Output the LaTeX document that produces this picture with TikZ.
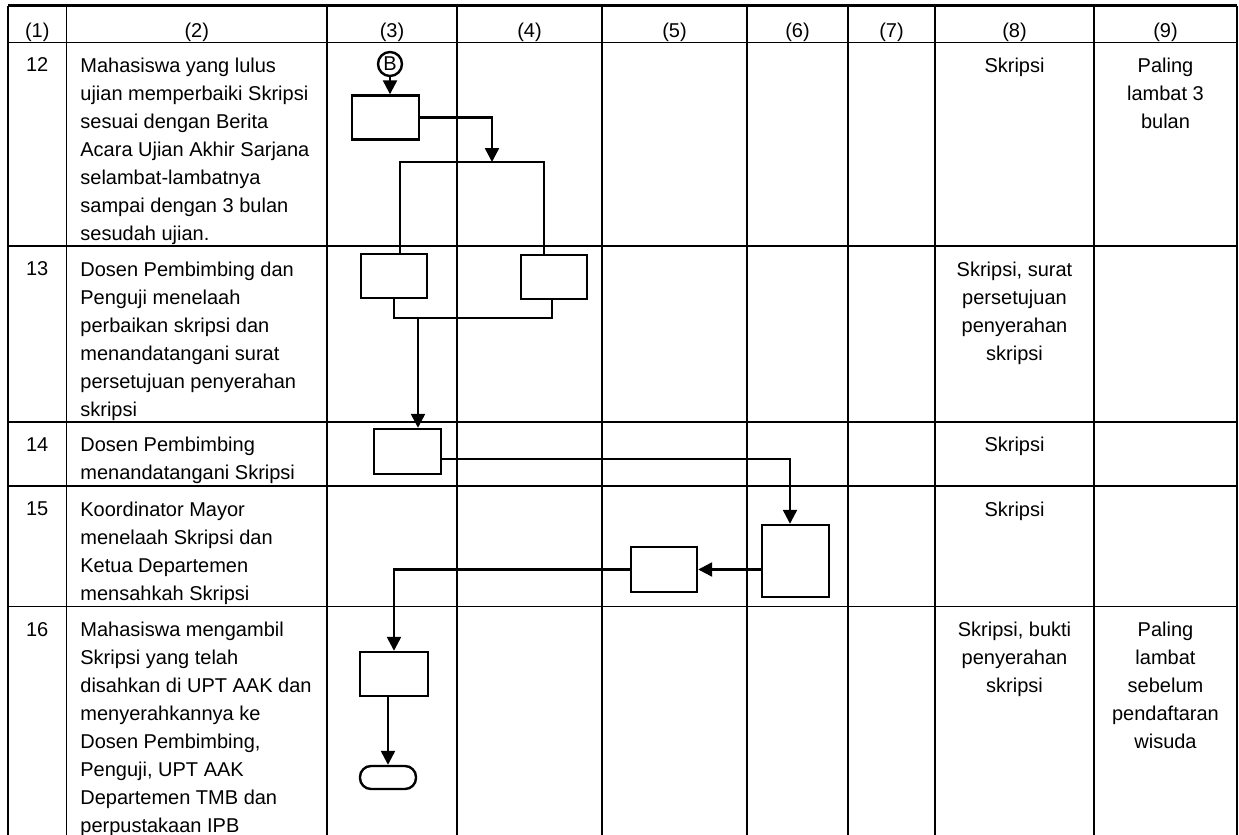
\documentclass[tikz,border=0pt]{standalone}
\usepackage{fontspec}
\setmainfont{Liberation Sans}
\usetikzlibrary{arrows.meta}

\begin{document}
\begin{tikzpicture}[x=0.5pt, y=-0.5pt,
      font=\fontsize{10}{14}\selectfont,
      grid/.style={line width=0.8pt},
      task/.style={shape=rectangle, draw=black, line width=1.2pt, inner sep=0pt, minimum width=33.5pt, minimum height=22pt},
      flow/.style={line width=1.2pt, -{Triangle[length=7pt,width=7pt]}},
      link/.style={line width=1.2pt},
      desc/.style={anchor=north west, align=left, inner sep=0pt},
      note/.style={anchor=north, align=center, inner sep=0pt},
      head/.style={anchor=base, inner sep=0pt}]

      \useasboundingbox (0,0) rectangle (1239,835);

      \draw[line width=1.2pt] (8,5.5) -- (1237,5.5);
      \foreach \y in {42.3,246,421.7,486,606.5}
        \draw[grid] (8,\y) -- (1237,\y);
      \foreach \x in {8,66.5,327,457,602,747,848,935,1094,1237}
        \draw[grid] (\x,5.5) -- (\x,835);

      \foreach \x/\t in {37.25/1,196.75/2,392/3,529.5/4,674.5/5,797.5/6,891.5/7,1014.5/8,1165.5/9}
        \node[head] (h\t) at (\x,38) {(\t)};

      \node[note] (n12) at (37.25,57.5) {12};
      \node[note] (n13) at (37.25,261.2) {13};
      \node[note] (n14) at (37.25,436.9) {14};
      \node[note] (n15) at (37.25,501.2) {15};
      \node[note] (n16) at (37.25,621.7) {16};

      \node[desc] (d12) at (80,57.5) {Mahasiswa yang lulus\\ujian memperbaiki Skripsi\\sesuai dengan Berita\\Acara Ujian Akhir Sarjana\\selambat-lambatnya\\sampai dengan 3 bulan\\sesudah ujian.};
      \node[desc] (d13) at (80,261.2) {Dosen Pembimbing dan\\Penguji menelaah\\perbaikan skripsi dan\\menandatangani surat\\persetujuan penyerahan\\skripsi};
      \node[desc] (d14) at (80,436.9) {Dosen Pembimbing\\menandatangani Skripsi};
      \node[desc] (d15) at (80,501.2) {Koordinator Mayor\\menelaah Skripsi dan\\Ketua Departemen\\mensahkah Skripsi};
      \node[desc] (d16) at (80,621.7) {Mahasiswa mengambil\\Skripsi yang telah\\disahkan di UPT AAK dan\\menyerahkannya ke\\Dosen Pembimbing,\\Penguji, UPT AAK\\Departemen TMB dan\\perpustakaan IPB};

      \node[note] (k12) at (1014.5,57.5) {Skripsi};
      \node[note] (k13) at (1014.5,261.2) {Skripsi, surat\\persetujuan\\penyerahan\\skripsi};
      \node[note] (k14) at (1014.5,436.9) {Skripsi};
      \node[note] (k15) at (1014.5,501.2) {Skripsi};
      \node[note] (k16) at (1014.5,621.7) {Skripsi, bukti\\penyerahan\\skripsi};

      \node[note] (w12) at (1165.5,57.5) {Paling\\lambat 3\\bulan};
      \node[note] (w16) at (1165.5,621.7) {Paling\\lambat\\sebelum\\pendaftaran\\wisuda};

      \node[shape=circle, draw=black, line width=1.2pt, inner sep=0pt, minimum size=12pt] (b) at (390,64) {B};
      \node[task] (s12) at (385.5,117.5) {};
      \node[task, minimum width=33pt] (s13a) at (394,276) {};
      \node[task, minimum width=33pt] (s13b) at (554,277) {};
      \node[task, minimum height=22.5pt] (s14) at (407.5,451.5) {};
      \node[task, minimum height=36pt] (s15a) at (795.5,561) {};
      \node[task, minimum width=33pt, minimum height=22.5pt] (s15b) at (664,569.5) {};
      \node[task, minimum width=34pt] (s16) at (394,674) {};
      \node[shape=rectangle, draw=black, line width=1.2pt, rounded corners=5.5pt, inner sep=0pt, minimum width=28pt, minimum height=11.5pt] (stop) at (388,777.5) {};

      \coordinate (split) at (492,162);
      \coordinate (bl) at (400,162);
      \coordinate (br) at (544,162);
      \coordinate (jl) at (394,318);
      \coordinate (jr) at (552,318);
      \coordinate (join) at (418,318);
      \coordinate (c15) at (790,459);

      \draw[flow] (b) -- (b |- s12.north);
      \draw[flow] (s12.east) -| (split);
      \draw[link] (s13a.north -| bl) -- (bl) -- (br) -- (br |- s13b.north);
      \draw[link] (s13a.south) -- (jl) -- (jr) -- (jr |- s13b.south);
      \draw[flow] (join) -- (join |- s14.north);
      \draw[flow] (s14.east |- c15) -- (c15) -- (c15 |- s15a.north);
      \draw[flow] (s15a.west |- s15b) -- (s15b.east);
      \draw[flow] (s15b.west) -| (s16.north);
      \draw[flow] (s16.south -| stop) -- (stop.north);

      \end{tikzpicture}
\end{document}
